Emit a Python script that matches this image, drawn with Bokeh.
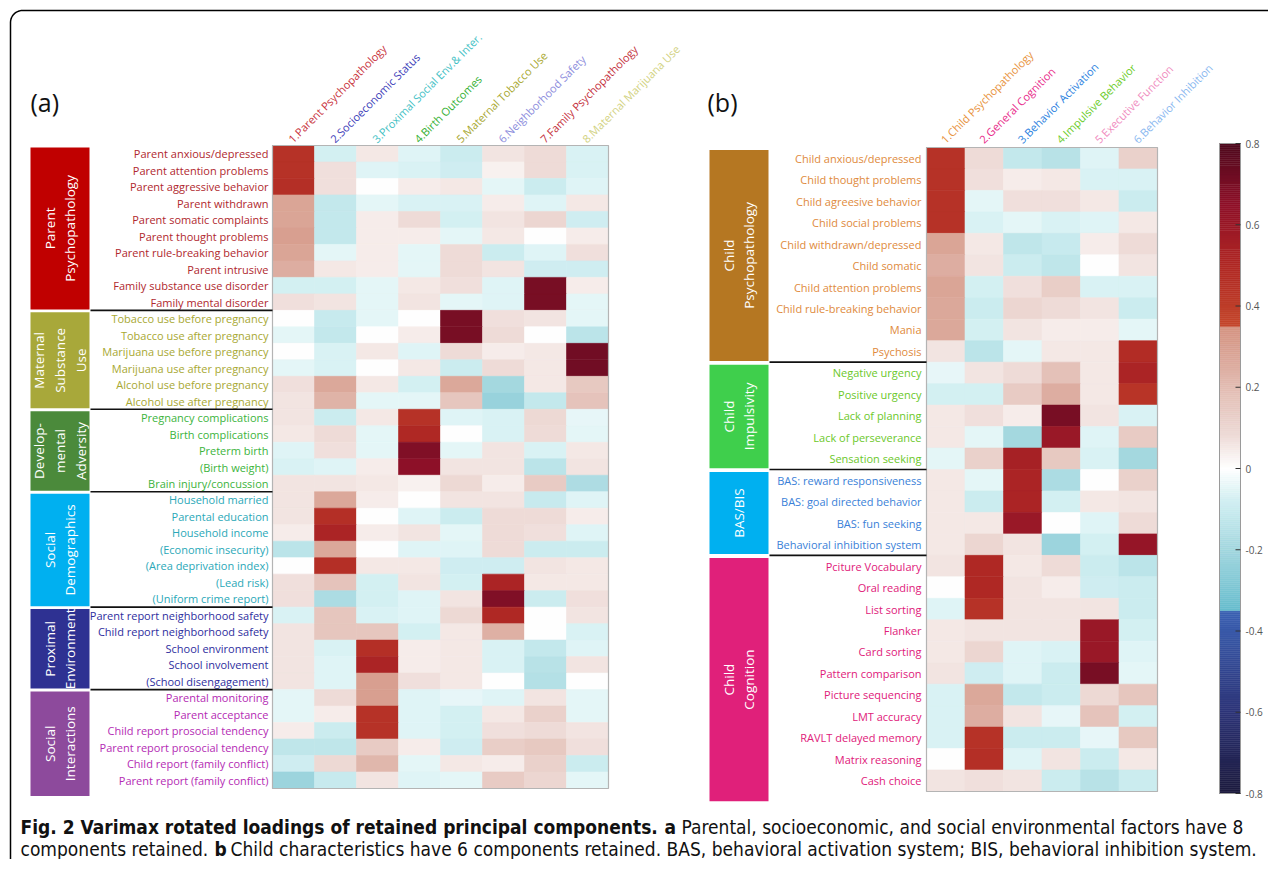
import numpy as np
from bokeh.plotting import figure
from bokeh.models import Range1d, ColumnDataSource, LinearColorMapper
from bokeh.transform import transform
from bokeh.core.properties import value
from bokeh.embed import file_html
from bokeh.resources import INLINE

# ---------------- data ----------------
cols_a = ["1.Parent Psychopathology", "2.Socioeconomic Status", "3.Proximal Social Env.& Inter.",
          "4.Birth Outcomes", "5.Maternal Tobacco Use", "6.Neighborhood Safety",
          "7.Family Psychopathology", "8.Maternal Marijuana Use"]
cols_a_colors = ["#c8323c", "#3b3bb8", "#3ec0c4", "#33b033", "#a8a830", "#8c8cdc", "#c4303c", "#d2d282"]

groups_a = ["Parent\nPsychopathology", "Maternal\nSubstance\nUse", "Develop-\nmental\nAdversity",
            "Social\nDemographics", "Proximal\nEnvironment", "Social\nInteractions"]
groups_a_sizes = [10, 6, 5, 7, 5, 6]
groups_a_box = ["#c00000", "#a8a83a", "#4b8a3b", "#00b0f0", "#2e3192", "#8d4a9c"]
groups_a_text = ["#b0282e", "#a8a832", "#3cb43c", "#2aa8b8", "#2e2e9e", "#b42bb4"]

rows_a = ["Parent anxious/depressed", "Parent attention problems", "Parent aggressive behavior",
          "Parent withdrawn", "Parent somatic complaints", "Parent thought problems",
          "Parent rule-breaking behavior", "Parent intrusive", "Family substance use disorder",
          "Family mental disorder",
          "Tobacco use before pregnancy", "Tobacco use after pregnancy", "Marijuana use before pregnancy",
          "Marijuana use after pregnancy", "Alcohol use before pregnancy", "Alcohol use after pregnancy",
          "Pregnancy complications", "Birth complications", "Preterm birth", "(Birth weight)",
          "Brain injury/concussion",
          "Household married", "Parental education", "Household income", "(Economic insecurity)",
          "(Area deprivation index)", "(Lead risk)", "(Uniform crime report)",
          "Parent report neighborhood safety", "Child report neighborhood safety", "School environment",
          "School involvement", "(School disengagement)",
          "Parental monitoring", "Parent acceptance", "Child report prosocial tendency",
          "Parent report prosocial tendency", "Child report (family conflict)",
          "Parent report (family conflict)"]

loadings_a = [
    [0.45, -0.08, 0.05, -0.06, -0.10, 0.06, 0.08, -0.07],
    [0.45, 0.07, -0.06, -0.07, -0.09, 0.03, 0.08, -0.07],
    [0.47, 0.07, 0.00, 0.04, 0.05, -0.05, -0.10, -0.06],
    [0.28, -0.12, -0.05, -0.07, -0.07, 0.04, -0.06, 0.05],
    [0.28, -0.12, 0.04, 0.08, -0.08, 0.06, 0.10, -0.09],
    [0.30, -0.12, 0.04, 0.04, -0.05, 0.05, 0.00, 0.04],
    [0.28, -0.05, 0.04, -0.05, 0.08, -0.10, -0.06, 0.07],
    [0.25, 0.05, 0.04, -0.05, 0.08, 0.06, -0.09, -0.09],
    [-0.08, -0.08, -0.05, 0.05, 0.07, -0.06, 0.70, 0.04],
    [0.07, 0.06, -0.05, 0.06, -0.05, -0.06, 0.70, -0.05],
    [0.00, -0.11, -0.05, 0.00, 0.70, 0.07, 0.06, -0.05],
    [-0.05, -0.12, 0.00, 0.04, 0.70, 0.08, 0.00, -0.14],
    [0.00, -0.07, 0.05, -0.06, 0.08, 0.04, 0.05, 0.72],
    [-0.05, -0.07, 0.00, 0.05, -0.10, 0.08, 0.05, 0.72],
    [0.07, 0.27, 0.05, -0.08, 0.27, -0.20, 0.05, 0.15],
    [0.06, 0.23, -0.05, -0.05, 0.16, -0.23, -0.12, 0.17],
    [0.06, -0.10, 0.05, 0.45, -0.06, -0.07, 0.09, -0.04],
    [0.05, 0.08, -0.05, 0.50, 0.00, -0.07, 0.08, -0.05],
    [-0.06, 0.07, -0.05, 0.68, -0.05, 0.06, -0.07, 0.05],
    [-0.07, -0.06, 0.04, 0.65, 0.06, 0.06, -0.14, 0.06],
    [0.06, 0.06, 0.05, 0.03, 0.09, 0.04, 0.14, -0.17],
    [0.06, 0.27, 0.04, 0.00, 0.06, 0.06, -0.11, -0.06],
    [0.06, 0.47, 0.00, -0.06, -0.10, 0.08, 0.08, 0.04],
    [0.04, 0.52, 0.04, 0.06, -0.05, 0.08, 0.07, -0.06],
    [-0.14, 0.27, 0.00, -0.06, -0.06, 0.08, -0.10, -0.10],
    [0.00, 0.47, 0.05, 0.05, -0.09, -0.09, 0.06, 0.05],
    [0.07, 0.17, -0.08, 0.06, -0.08, 0.52, 0.05, 0.05],
    [0.07, -0.18, -0.08, -0.06, 0.06, 0.68, -0.10, 0.07],
    [-0.07, 0.16, -0.07, -0.06, 0.09, 0.50, 0.00, 0.06],
    [0.06, 0.16, 0.16, -0.08, 0.05, 0.24, 0.00, -0.07],
    [0.06, -0.07, 0.47, 0.04, 0.05, -0.07, -0.12, -0.06],
    [0.06, -0.06, 0.52, 0.04, 0.05, -0.07, -0.15, 0.06],
    [0.06, -0.06, 0.30, 0.07, 0.05, 0.00, -0.16, 0.00],
    [-0.05, 0.08, 0.30, -0.06, -0.04, -0.06, 0.06, -0.05],
    [-0.05, 0.04, 0.45, -0.06, -0.08, 0.05, 0.12, -0.05],
    [0.04, -0.10, 0.45, -0.06, -0.08, 0.07, 0.08, 0.06],
    [-0.13, -0.13, 0.14, 0.04, -0.09, 0.13, 0.15, 0.07],
    [-0.09, 0.09, 0.22, -0.05, 0.05, 0.04, 0.12, -0.10],
    [-0.22, -0.11, 0.06, -0.06, -0.05, 0.14, 0.10, -0.05],
]

cols_b = ["1.Child Psychopathology", "2.General Cognition", "3.Behavior Activation",
          "4.Impulsive Behavior", "5.Executive Function", "6.Behavior Inhibition"]
cols_b_colors = ["#e8923c", "#e82a8a", "#2a7fe0", "#6ccc2a", "#f08cc0", "#8ab8f0"]

groups_b = ["Child\nPsychopathology", "Child\nImpulsivity", "BAS/BIS", "Child\nCognition"]
groups_b_sizes = [10, 5, 4, 11]
groups_b_box = ["#b57722", "#3fcf4c", "#00b0f0", "#e0207a"]
groups_b_text = ["#e08a3c", "#6cc82a", "#3a7fd8", "#e0207a"]

rows_b = ["Child anxious/depressed", "Child thought problems", "Child agreesive behavior",
          "Child social problems", "Child withdrawn/depressed", "Child somatic",
          "Child attention problems", "Child rule-breaking behavior", "Mania", "Psychosis",
          "Negative urgency", "Positive urgency", "Lack of planning", "Lack of perseverance",
          "Sensation seeking",
          "BAS: reward responsiveness", "BAS: goal directed behavior", "BAS: fun seeking",
          "Behavioral inhibition system",
          "Pciture Vocabulary", "Oral reading", "List sorting", "Flanker", "Card sorting",
          "Pattern comparison", "Picture sequencing", "LMT accuracy", "RAVLT delayed memory",
          "Matrix reasoning", "Cash choice"]

loadings_b = [
    [0.45, 0.08, -0.12, -0.15, -0.06, 0.12],
    [0.45, 0.07, 0.04, 0.05, -0.07, -0.07],
    [0.45, -0.05, 0.07, 0.07, 0.05, -0.10],
    [0.45, -0.07, -0.05, -0.07, -0.06, 0.05],
    [0.28, 0.05, -0.13, -0.11, 0.04, 0.08],
    [0.25, 0.06, -0.10, -0.13, 0.00, 0.06],
    [0.28, -0.08, 0.07, 0.13, -0.07, -0.07],
    [0.27, -0.10, 0.10, 0.08, 0.06, -0.10],
    [0.27, -0.08, 0.06, 0.04, 0.04, -0.05],
    [0.06, -0.14, -0.05, 0.05, 0.05, 0.48],
    [-0.04, 0.06, 0.08, 0.18, 0.05, 0.52],
    [-0.08, -0.08, 0.14, 0.25, 0.05, 0.44],
    [0.05, 0.07, 0.04, 0.70, 0.06, -0.07],
    [0.05, -0.05, -0.20, 0.60, -0.06, 0.14],
    [-0.05, 0.12, 0.54, 0.15, -0.07, -0.20],
    [0.05, -0.05, 0.52, -0.18, 0.00, 0.12],
    [0.05, -0.10, 0.52, -0.08, 0.05, 0.06],
    [0.05, 0.05, 0.60, 0.00, -0.06, 0.08],
    [0.05, 0.10, 0.06, -0.22, -0.08, 0.62],
    [0.06, 0.50, 0.05, 0.08, -0.10, -0.14],
    [0.00, 0.50, 0.06, 0.04, -0.09, -0.10],
    [-0.06, 0.45, 0.06, 0.06, 0.06, -0.10],
    [0.05, 0.06, 0.06, 0.06, 0.60, -0.08],
    [0.05, 0.10, -0.06, -0.07, 0.60, -0.06],
    [0.06, -0.09, -0.06, -0.10, 0.70, -0.05],
    [-0.07, 0.27, -0.12, -0.10, 0.09, 0.16],
    [-0.07, 0.25, 0.06, -0.04, 0.17, -0.08],
    [-0.07, 0.45, -0.10, -0.10, -0.04, 0.15],
    [0.00, 0.47, -0.06, 0.06, -0.10, 0.05],
    [0.06, 0.07, 0.06, -0.10, -0.15, -0.10],
]

cbar_ticks = [-0.8, -0.6, -0.4, -0.2, 0.0, 0.2, 0.4, 0.6, 0.8]
cbar_labels = ["-0.8", "-0.6", "-0.4", "-0.2", "0", "0.2", "0.4", "0.6", "0.8"]

caption_l1_bold = "Fig. 2 Varimax rotated loadings of retained principal components."
caption_l1_a = "a"
caption_l1_rest = "Parental, socioeconomic, and social environmental factors have 8"
caption_l2_start = "components retained."
caption_l2_b = "b"
caption_l2_rest = "Child characteristics have 6 components retained. BAS, behavioral activation system; BIS, behavioral inhibition system."

# ---------------- colour map ----------------
def hx(c):
    return np.array([int(c[i:i + 2], 16) for i in (1, 3, 5)], float)

segments = [
    (-0.8, -0.35, [(-0.8, "#1c1a3c"), (-0.6, "#2d3477"), (-0.35, "#3c62b4")]),
    (-0.35, 0.0, [(-0.35, "#67bccd"), (-0.2, "#a3d7df"), (-0.08, "#d2eff2"), (0.0, "#ffffff")]),
    (0.0, 0.35, [(0.0, "#ffffff"), (0.08, "#eedcd8"), (0.2, "#e2bcb2"), (0.35, "#d49280")]),
    (0.35, 0.8, [(0.35, "#c4482c"), (0.5, "#b02824"), (0.65, "#8e1028"), (0.8, "#4e0a1e")]),
]

def cmap(v):
    for lo, hi, anc in segments:
        if lo <= v <= hi:
            xs = [a[0] for a in anc]
            rgb = [np.interp(v, xs, [hx(a[1])[k] for a in anc]) for k in range(3)]
            return "#%02x%02x%02x" % tuple(int(round(c)) for c in rgb)
    return "#ffffff"

NPAL = 320
centers = np.linspace(-0.8, 0.8, NPAL + 1)
centers = (centers[:-1] + centers[1:]) / 2
palette = [cmap(v) for v in centers]
mapper = LinearColorMapper(palette=palette, low=-0.8, high=0.8)

# ---------------- figure (pixel coordinates) ----------------
W, H = 1268, 859
p = figure(width=W, height=H, x_range=Range1d(0, W), y_range=Range1d(H, 0),
           output_backend="svg", toolbar_location=None, min_border=0)
p.axis.visible = False
p.grid.visible = False
p.outline_line_color = None
p.background_fill_color = "white"
p.border_fill_color = "white"

FONT = value("Open Sans")

# panel geometry (pixels)
ax0, ax1, ay0, ay1 = 272, 608, 145, 788
bx0, bx1, by0, by1 = 926, 1157, 147, 791

na, ka = len(rows_a), len(cols_a)
nb, kb = len(rows_b), len(cols_b)

uxa = ka / (ax1 - ax0); uya = na / (ay1 - ay0)
uxb = kb / (bx1 - bx0); uyb = nb / (by1 - by0)
p.extra_x_ranges = {
    "xa": Range1d(-ax0 * uxa, (W - ax0) * uxa),
    "xb": Range1d(-bx0 * uxb, (W - bx0) * uxb),
}
p.extra_y_ranges = {
    "ya": Range1d((H - ay0) * uya, -ay0 * uya),
    "yb": Range1d((H - by0) * uyb, -by0 * uyb),
}
cb_top, cb_bot = 143, 793
ucb = 1.6 / (cb_bot - cb_top)
p.extra_y_ranges["cb"] = Range1d(0.8 - (H - cb_top) * ucb, 0.8 + cb_top * ucb)

# outer rounded frame
r = 12
fx0, fy0, fx1, fy1 = 10, 10, 1300, 872
t = np.linspace(0, np.pi / 2, 12)
px = np.concatenate([[fx0], fx0 + r - r * np.cos(t), [fx1 - r], fx1 - r + r * np.sin(t),
                     [fx1], fx1 - r + r * np.cos(t), [fx0 + r], fx0 + r - r * np.sin(t), [fx0]])
py = np.concatenate([[fy1 - r], fy0 + r - r * np.sin(t), [fy0], fy0 + r - r * np.cos(t),
                     [fy1 - r], fy1 - r + r * np.sin(t), [fy1], fy1 - r + r * np.cos(t), [fy1 - r]])
p.line(px, py, line_color="black", line_width=1.5)

# panel letters
p.text(x=[30, 707], y=[101, 101], text=["(a)", "(b)"],
       text_font=FONT, text_font_size="25px", text_color="#111111",
       text_baseline="middle", text_align="left")


def draw_panel(rows, cols, col_colors, loadings, groups, sizes, box_colors, text_colors,
               xr, yr, x_label_right, box_x0, box_x1, sep_x1):
    n, k = len(rows), len(cols)
    xs, ys, vs = [], [], []
    for i in range(n):
        for j in range(k):
            xs.append(j + 0.5); ys.append(i + 0.5); vs.append(loadings[i][j])
    src = ColumnDataSource(dict(x=xs, y=ys, v=vs))
    p.rect(x="x", y="y", width=1, height=1, source=src,
           fill_color=transform("v", mapper), line_color=transform("v", mapper), line_width=0.6,
           x_range_name=xr, y_range_name=yr)
    p.rect(x=[k / 2], y=[n / 2], width=[k], height=[n], fill_color=None,
           line_color="#b4b4b4", line_width=1.2, x_range_name=xr, y_range_name=yr)
    # column headers
    p.text(x=[j + 0.42 for j in range(k)], y=[-0.3] * k, text=cols, angle=np.pi / 4,
           text_color=col_colors, text_font=FONT, text_font_size="11px",
           text_align="left", text_baseline="alphabetic", x_range_name=xr, y_range_name=yr)
    # row labels
    lab_colors = []
    for g, s in enumerate(sizes):
        lab_colors += [text_colors[g]] * s
    p.text(x=[x_label_right] * n, y=[i + 0.5 for i in range(n)], text=rows,
           text_color=lab_colors, text_font=FONT, text_font_size="11px",
           text_align="right", text_baseline="middle", y_range_name=yr)
    # group boxes, labels and separators
    bounds = np.cumsum([0] + sizes)
    tops = [b + 0.12 for b in bounds[:-1]]
    bots = [b - 0.06 for b in bounds[1:]]
    bots[-1] = bounds[-1] + 0.45
    p.quad(left=[box_x0] * len(sizes), right=[box_x1] * len(sizes), top=tops, bottom=bots,
           fill_color=box_colors, line_color=None, y_range_name=yr)
    p.text(x=[(box_x0 + box_x1) / 2] * len(sizes), y=[(a + b) / 2 for a, b in zip(tops, bots)],
           text=groups, angle=np.pi / 2, text_color="white", text_font=FONT,
           text_font_size="13.5px", text_align="center", text_baseline="middle",
           text_line_height=1.15, y_range_name=yr)
    p.segment(x0=[box_x1 + 1] * (len(sizes) - 1), x1=[sep_x1] * (len(sizes) - 1),
              y0=list(bounds[1:-1]), y1=list(bounds[1:-1]), line_color="#111111",
              line_width=1.6, y_range_name=yr)


draw_panel(rows_a, cols_a, cols_a_colors, loadings_a, groups_a, groups_a_sizes,
           groups_a_box, groups_a_text, "xa", "ya", 268, 30, 89, ax0)
draw_panel(rows_b, cols_b, cols_b_colors, loadings_b, groups_b, groups_b_sizes,
           groups_b_box, groups_b_text, "xb", "yb", 921, 709, 768, bx0)

# colour bar
edges = np.linspace(-0.8, 0.8, NPAL + 1)
cbx0, cbx1 = 1219, 1240
csrc = ColumnDataSource(dict(b=edges[:-1], t=edges[1:], v=centers))
p.quad(left=cbx0, right=cbx1, bottom="b", top="t", source=csrc,
       fill_color=transform("v", mapper), line_color=transform("v", mapper), line_width=0.5,
       y_range_name="cb")
p.quad(left=[cbx0], right=[cbx1], bottom=[-0.8], top=[0.8], fill_color=None,
       line_color="#9a9a9a", line_width=1, y_range_name="cb")
p.segment(x0=[cbx1 - 5] * len(cbar_ticks), x1=[cbx1] * len(cbar_ticks), y0=cbar_ticks,
          y1=cbar_ticks, line_color="#333333", line_width=1, y_range_name="cb")
p.text(x=[cbx1 + 5] * len(cbar_ticks), y=cbar_ticks, text=cbar_labels, text_font=FONT,
       text_font_size="10px", text_color="#555555", text_align="left",
       text_baseline="middle", y_range_name="cb")

# caption
CAP = value("DejaVu Sans Condensed")
y1c, y2c = 826, 848
p.text(x=[20, 664, 214], y=[y1c, y1c, y2c],
       text=[caption_l1_bold, caption_l1_a, caption_l2_b],
       text_font=CAP, text_font_style="bold", text_font_size="19px", text_color="#111111",
       text_align="left", text_baseline="middle")
p.text(x=[681, 20, 230], y=[y1c, y2c, y2c],
       text=[caption_l1_rest, caption_l2_start, caption_l2_rest],
       text_font=CAP, text_font_size="19px", text_color="#111111",
       text_align="left", text_baseline="middle")

open("out.html", "w").write(file_html(p, INLINE))
